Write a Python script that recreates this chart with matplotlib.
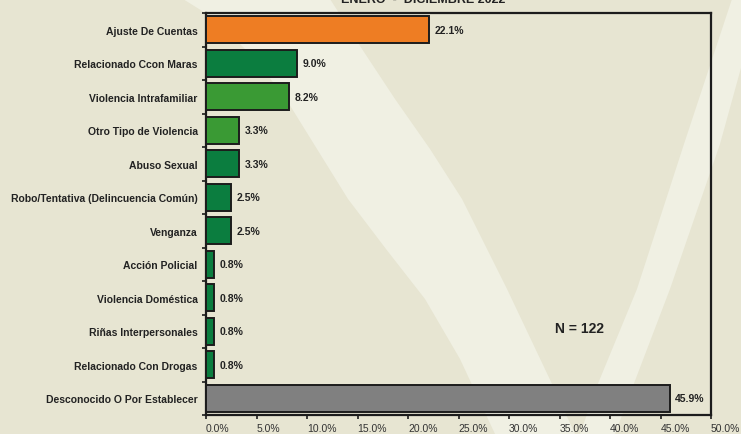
# Homicidios por móvil, enero - diciembre 2022
import matplotlib
matplotlib.use('Agg')
import matplotlib.pyplot as plt
from matplotlib.patches import Polygon
from matplotlib.ticker import FixedLocator

plt.rcParams['font.family'] = ['Liberation Sans', 'DejaVu Sans']

# Data
categories = ['Ajuste De Cuentas', 'Relacionado Ccon Maras', 'Violencia Intrafamiliar',
              'Otro Tipo de Violencia', 'Abuso Sexual',
              'Robo/Tentativa (Delincuencia Común)', 'Venganza', 'Acción Policial',
              'Violencia Doméstica', 'Riñas Interpersonales', 'Relacionado Con Drogas',
              'Desconocido O Por Establecer']
values = [22.1, 9.0, 8.2, 3.3, 3.3, 2.5, 2.5, 0.8, 0.8, 0.8, 0.8, 45.9]
bar_colors = ['#ee7d23', '#0b7d3f', '#3a9a34', '#3a9a34', '#0b7d3f', '#0b7d3f',
              '#0b7d3f', '#0b7d3f', '#0b7d3f', '#0b7d3f', '#0b7d3f', '#808080']
x_ticks = [0, 5, 10, 15, 20, 25, 30, 35, 40, 45, 50]
total_n = 122

W, H = 741, 435
fig = plt.figure(figsize=(W / 100, H / 100), dpi=100)
fig.patch.set_facecolor('#e7e5d2')

# light swooshes in the background (pixel coords, y from the top)
def px(pts):
    return [(x / W, 1 - y / H) for x, y in pts]

band1 = [(183, 0), (215, 20), (255, 60), (286, 100), (317, 150), (348, 200),
         (386, 250), (425, 300), (460, 360), (495, 435),
         (575, 435), (553, 387), (507, 290), (462, 200), (430, 150),
         (395, 100), (362, 50), (330, 0)]
band2 = [(732, 0), (684, 145), (637, 290), (597, 387), (580, 435),
         (615, 435), (633, 387), (670, 290), (720, 145), (760, 0)]
for b in (band1, band2):
    fig.patches.append(Polygon(px(b), closed=True, transform=fig.transFigure,
                               facecolor='#f0f0e3', edgecolor='none', zorder=-1))

ax = fig.add_axes([206 / W, 1 - 416 / H, 505 / W, 402 / H])
ax.patch.set_alpha(0)

ypos = list(range(len(categories)))
ax.barh(ypos, values, height=0.8, color=bar_colors, edgecolor='#1c1c1c',
        linewidth=1.4, zorder=3)

for y, v in zip(ypos, values):
    ax.annotate(f'{v:.1f}%', xy=(v, y), xytext=(4, 0), textcoords='offset points',
                ha='left', va='center', fontsize=7.5, fontweight='bold', color='#222222')

ax.set_xlim(0, 50)
ax.set_ylim(len(categories) - 0.5, -0.5)

ax.set_yticks(ypos)
ax.set_yticklabels(categories, fontsize=7.5, fontweight='bold', color='#222222')
ax.tick_params(axis='y', which='major', length=0, pad=6)
ax.yaxis.set_minor_locator(FixedLocator([i - 0.5 for i in range(len(categories) + 1)]))
ax.tick_params(axis='y', which='minor', length=3, width=1.2, color='#1c1c1c')

ax.set_xticks(x_ticks)
ax.set_xticklabels([f'{t:.1f}%' for t in x_ticks], fontsize=7.5, color='#333333')
ax.tick_params(axis='x', length=3, width=1.2, color='#1c1c1c', pad=3)
for lab in ax.get_xticklabels():
    lab.set_horizontalalignment('left')

for s in ax.spines.values():
    s.set_linewidth(1.6)
    s.set_color('#1c1c1c')

ax.text(37.0, 8.9, f'N = {total_n}', ha='center', va='center', fontsize=10,
        fontweight='bold', color='#222222')

# title sits mostly above the top edge
fig.text(423 / W, 1 - 3 / H, 'ENERO  -  DICIEMBRE 2022', ha='center', va='baseline',
         fontsize=9, fontweight='bold', color='#222222')

fig.savefig('out.png', dpi=100, facecolor=fig.get_facecolor())
